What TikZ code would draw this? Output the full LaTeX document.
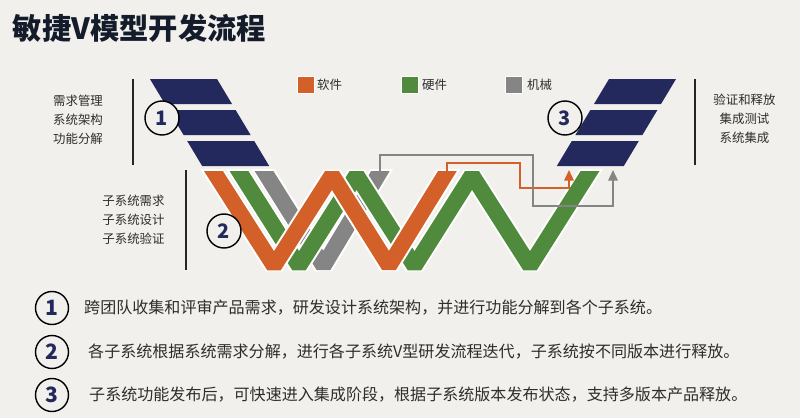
\documentclass[tikz,border=0pt]{standalone}
\usepackage{fontspec}
\setmainfont{Noto Sans CJK SC}
\usepackage{xcolor}
\usepackage{tikz}
\usetikzlibrary{arrows.meta,positioning,calc}
\definecolor{clrBg}{RGB}{241,240,236}
\definecolor{clrNavy}{RGB}{35,41,92}
\definecolor{clrSW}{RGB}{211,96,40}
\definecolor{clrHW}{RGB}{80,138,60}
\definecolor{clrME}{RGB}{133,133,133}
\definecolor{clrTitle}{RGB}{20,28,43}
\definecolor{clrTxt}{RGB}{45,45,45}
\tikzset{
  title/.style={font=\fontsize{25}{30}\selectfont\bfseries,text=clrTitle,
    anchor=west,inner sep=0pt},
  sidelabel/.style={font=\fontsize{10.6}{16.2}\selectfont,text=clrTxt,
    align=center,inner sep=0pt},
  divider/.style={line width=1.6pt,draw=black!85},
  bar/.style={fill=clrNavy},
  stepmark/.style={circle,draw=black,line width=1.2pt,fill=clrBg,
    minimum size=1.02cm,inner sep=0pt,text=clrNavy,
    font=\fontsize{17}{17}\selectfont\bfseries},
  legendbox/.style={rectangle,draw=white,line width=0.5pt,
    minimum size=0.51cm,inner sep=0pt},
  legendtext/.style={font=\fontsize{10.6}{12}\selectfont,text=clrTxt,
    anchor=west,inner sep=0pt},
  bandfill/.style={line join=bevel,line width=13.6pt},
  bandedge/.style={line join=bevel,line width=17pt,draw=white},
  link/.style={line width=1.6pt,-{Triangle[length=9pt,width=8pt]}},
  note/.style={font=\fontsize{13.7}{16}\selectfont,text=clrTxt,
    anchor=west,inner sep=0pt},
  notemark/.style={stepmark,minimum size=0.99cm,
    font=\fontsize{18}{18}\selectfont\bfseries}
}
% one zigzag band: white rim first, colour on top, tops cut flat
\newcommand{\drawband}[2]{%
  \begin{scope}
    \clip (150,169) rectangle (650,290);
    \draw[bandedge] #2;
  \end{scope}
  \begin{scope}
    \clip (150,171) rectangle (650,290);
    \draw[bandfill,draw=#1] #2;
  \end{scope}}

\begin{document}
\begin{tikzpicture}[x=0.03cm,y=-0.03cm]
  \fill[clrBg] (0,0) rectangle (800,418);
  \useasboundingbox (0,0) rectangle (800,418);

  \node[title] (title) at (12.5,28) {敏捷V模型开发流程};

  % navy steps, left and right
  \foreach \i in {0,1,2} {
    \fill[bar] ({150+18.6*\i},{79+31*\i}) -- ++(67,0) -- ++(15,25)
      -- ++(-67,0) -- cycle;
    \fill[bar] ({676-18.6*\i},{79+31*\i}) -- ++(-67,0) -- ++(-15,25)
      -- ++(67,0) -- cycle;
  }

  % zigzag bands: mechanics, hardware, software
  \drawband{clrME}{(257.1,160) -- (323.5,266) -- (387,160)}
  \drawband{clrHW}{(232,160) -- (299,266) -- (356.5,175) -- (414.5,266)
    -- (472,175) -- (530,266) -- (597,160)}
  \drawband{clrSW}{(206.4,160) -- (274,266) -- (332,175) -- (389,266)
    -- (454.2,160)}

  % release links into integration
  \coordinate (sw-out) at (447,171);
  \coordinate (sw-in) at (569,170);
  \coordinate (me-out) at (380,171);
  \coordinate (me-in) at (613,170);
  \draw[link,draw=clrSW] (sw-out) -- (447,163) -| (520,188) -| (sw-in);
  \draw[link,draw=clrME] (me-out) -- (380,155) -| (533,206) -| (me-in);

  \node[stepmark] (step1) at (162,118) {1};
  \node[stepmark] (step2) at (224,231) {2};
  \node[stepmark] (step3) at (565,118) {3};

  % legend
  \node[legendbox,fill=clrSW] (sw-box) at (305.5,85) {};
  \node[legendtext] (sw-text) at (317,85) {软件};
  \node[legendbox,fill=clrHW] (hw-box) at (409.5,85) {};
  \node[legendtext] (hw-text) at (422,85) {硬件};
  \node[legendbox,fill=clrME] (me-box) at (514,85) {};
  \node[legendtext] (me-text) at (527,85) {机械};

  % side labels
  \node[sidelabel] (req-text) at (78,120) {需求管理\\系统架构\\功能分解};
  \draw[divider] (133,79) -- (133,165);
  \node[sidelabel] (sub-text) at (133.5,220)
    {子系统需求\\子系统设计\\子系统验证};
  \draw[divider] (186,170) -- (186,270);
  \node[sidelabel] (int-text) at (744.5,119)
    {验证和释放\\集成测试\\系统集成};
  \draw[divider] (695,79) -- (695,165);

  % notes
  \node[notemark] (note1-mark) at (52,308) {1};
  \node[note] (note1) at (84,308)
    {跨团队收集和评审产品需求，研发设计系统架构，并进行功能分解到各个子系统。};
  \node[notemark] (note2-mark) at (52,352) {2};
  \node[note] (note2) at (88,352)
    {各子系统根据系统需求分解，进行各子系统V型研发流程迭代，子系统按不同版本进行释放。};
  \node[notemark] (note3-mark) at (52,395) {3};
  \node[note] (note3) at (89,395)
    {子系统功能发布后，可快速进入集成阶段，根据子系统版本发布状态，支持多版本产品释放。};
\end{tikzpicture}
\end{document}
